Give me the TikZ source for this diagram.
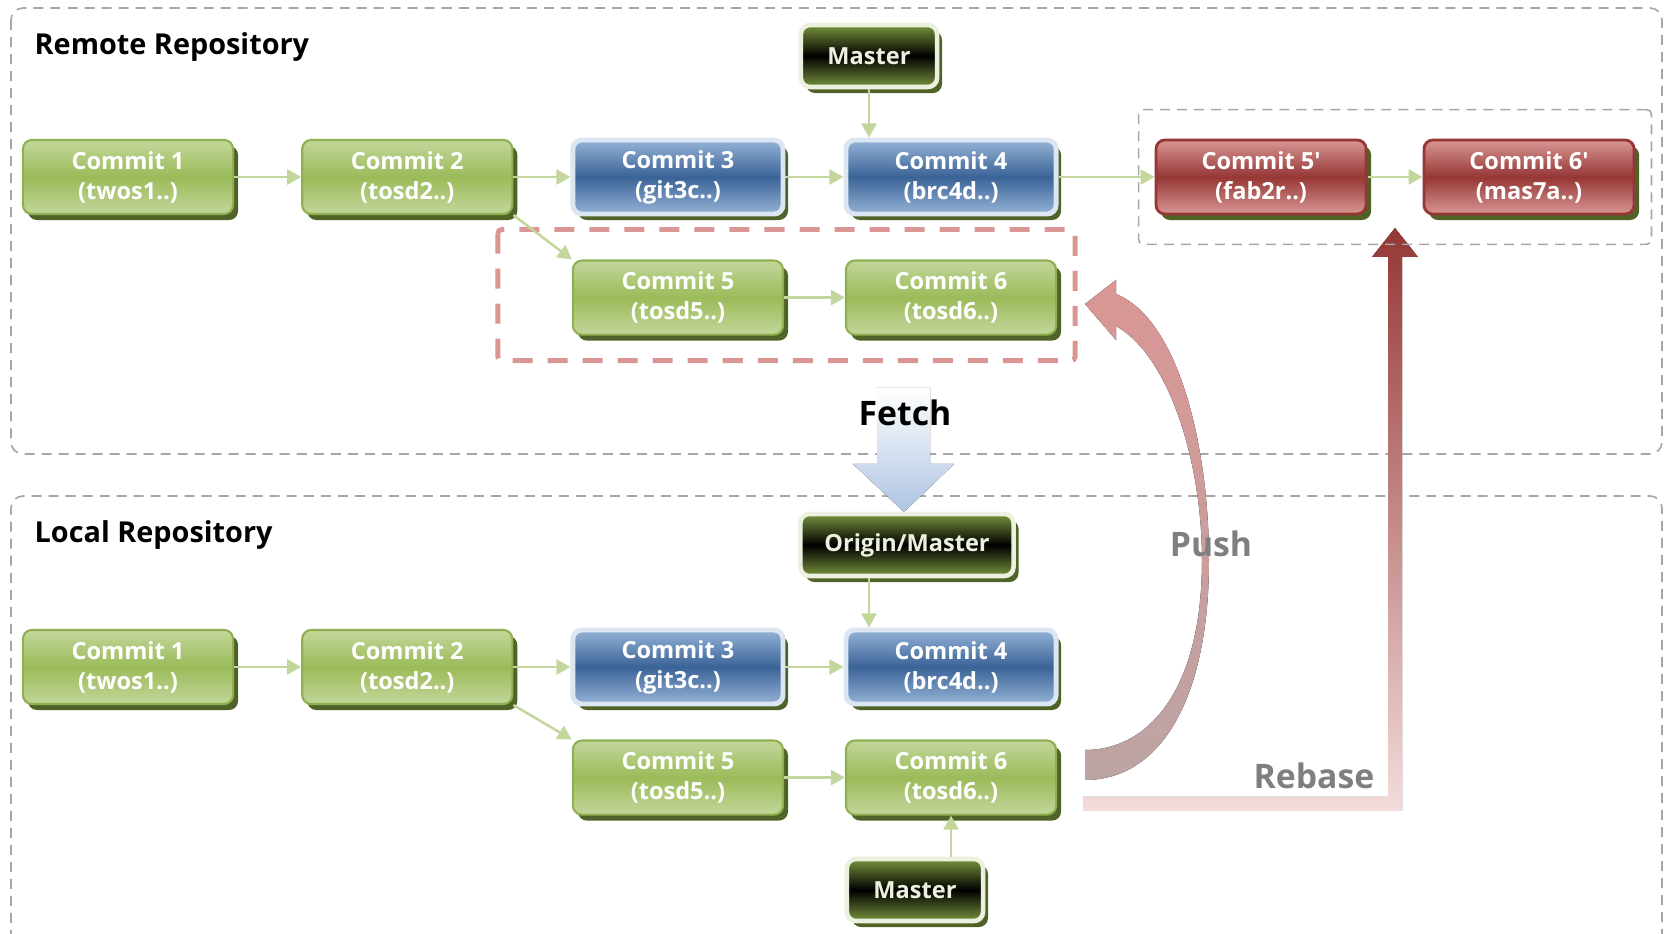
\documentclass[tikz,border=0pt]{standalone}
\usepackage{fontspec}
\setmainfont{Open Sans}
\usetikzlibrary{arrows.meta,positioning,shadows,calc,fit}

\definecolor{grnlight}{HTML}{C3D69B}
\definecolor{grnmid}{HTML}{9BBB59}
\definecolor{grnline}{HTML}{8FB050}
\definecolor{grndark}{HTML}{4F6228}
\definecolor{bluelight}{HTML}{95B3D7}
\definecolor{bluemid}{HTML}{3A6397}
\definecolor{blueline}{HTML}{DCE6F2}
\definecolor{redlight}{HTML}{D99694}
\definecolor{redmid}{HTML}{953735}
\definecolor{mstlight}{HTML}{77933C}
\definecolor{mstline}{HTML}{EBF1DE}
\definecolor{dashgray}{HTML}{A6A6A6}
\definecolor{fetchblue}{HTML}{AEC4E2}
\definecolor{labelgray}{HTML}{7F7F7F}
\definecolor{pushlow}{HTML}{BDA4A4}
\definecolor{rebaselow}{HTML}{F2DCDB}

\begin{document}
\begin{tikzpicture}[
  x=0.01cm, y=-0.01cm,
  font=\bfseries\fontsize{6.7}{8.5}\selectfont,
  commit/.style={rounded corners=0.09cm,minimum width=2.1cm,minimum height=0.74cm,
                 align=center,inner sep=1pt,text=white,
                 drop shadow={shadow xshift=0.05cm,shadow yshift=-0.06cm,fill=grndark,opacity=1}},
  greencommit/.style={commit,draw=grnline,line width=0.6pt,
                      top color=grnlight,bottom color=grnlight,middle color=grnmid},
  bluecommit/.style={commit,draw=blueline,line width=1.4pt,
                     top color=bluelight,bottom color=bluelight,middle color=bluemid},
  redcommit/.style={commit,draw=redmid,line width=0.8pt,
                    top color=redlight,bottom color=redlight,middle color=redmid},
  branchbox/.style={commit,minimum width=1.36cm,minimum height=0.62cm,draw=mstline,line width=1.3pt,
                    top color=mstlight,bottom color=mstlight,middle color=black,text=mstline},
  arr/.style={-{Triangle[length=0.14cm,width=0.15cm]},line width=0.025cm,grnlight},
  graydash/.style={draw=dashgray,line width=0.45pt,dash pattern=on 0.1cm off 0.07cm},
  reddash/.style={draw=redlight,line width=1.4pt,dash pattern=on 0.2cm off 0.15cm},
  title/.style={anchor=west,inner sep=0pt,font=\bfseries\fontsize{8.2}{10}\selectfont},
  biglabel/.style={inner sep=0pt,font=\bfseries\fontsize{9.6}{11}\selectfont},
]
\useasboundingbox (0,0) rectangle (1665,934);

%% ---- Repository frames -----------------------------------------------------
\draw[graydash,rounded corners=0.12cm] (11,8) rectangle (1662,454);
\draw[graydash,rounded corners=0.12cm] (11,940) -- (11,496) -- (1662,496) -- (1662,940);
\node[title] (rtitle) at (34,47) {Remote Repository};
\node[title] (ltitle) at (34,535) {Local Repository};

%% ---- Push and Rebase arrows ------------------------------------------------
\fill[top color=redlight,bottom color=pushlow]
  (1085,780) .. controls (1160,780) and (1209,700) .. (1209,560)
  .. controls (1209,450) and (1180,320) .. (1116,294) -- (1116,280) -- (1085,304)
  -- (1116,340) -- (1116,326) .. controls (1168,355) and (1202,460) .. (1202,560)
  .. controls (1202,688) and (1150,750) .. (1085,750) -- cycle;
\fill[top color=redmid,bottom color=rebaselow]
  (1083,797) -- (1388,797) -- (1388,257) -- (1372,257) -- (1395,228) -- (1418,257)
  -- (1402,257) -- (1402,811) -- (1083,811) -- cycle;
\node[biglabel,text=labelgray] (push) at (1211,544) {Push};
\node[biglabel,text=labelgray] (rebase) at (1314,776) {Rebase};

%% ---- Fetch arrow -----------------------------------------------------------
\fill[top color=white,bottom color=fetchblue]
  (877,388) -- (930,388) -- (930,464) -- (954,464) -- (904,512) -- (853,464) -- (877,464) -- cycle;
\node[biglabel] (fetch) at (905,413) {Fetch};

%% ---- Remote commits --------------------------------------------------------
\node[greencommit] (rc1) at (128,177) {Commit 1\\(twos1..)};
\node[greencommit,right=0.67cm of rc1] (rc2) {Commit 2\\(tosd2..)};
\node[bluecommit,right=0.57cm of rc2] (rc3) {Commit 3\\(git3c..)};
\node[bluecommit,right=0.58cm of rc3] (rc4) {Commit 4\\(brc4d..)};
\node[redcommit,right=0.96cm of rc4] (rc5p) {Commit 5′\\(fab2r..)};
\node[redcommit,right=0.55cm of rc5p] (rc6p) {Commit 6′\\(mas7a..)};
\node[greencommit,below=0.43cm of rc3] (rc5) {Commit 5\\(tosd5..)};
\node[greencommit,below=0.43cm of rc4] (rc6) {Commit 6\\(tosd6..)};
\node[branchbox] (rmaster) at (869,56) {Master};

%% ---- Remote groups
\node[graydash,rounded corners=0.05cm,inner xsep=0.16cm,inner ysep=0.29cm,fit=(rc5p)(rc6p)] (rebased) {};
\draw[reddash,rounded corners=0.04cm] ($(rc5.north west)+(-74,-30)$) rectangle ($(rc6.south east)+(18,25)$);

%% ---- Local commits ---------------------------------------------------------
\node[greencommit] (lc1) at (128,667) {Commit 1\\(twos1..)};
\node[greencommit,right=0.67cm of lc1] (lc2) {Commit 2\\(tosd2..)};
\node[bluecommit,right=0.57cm of lc2] (lc3) {Commit 3\\(git3c..)};
\node[bluecommit,right=0.58cm of lc3] (lc4) {Commit 4\\(brc4d..)};
\node[greencommit,below=0.33cm of lc3] (lc5) {Commit 5\\(tosd5..)};
\node[greencommit,below=0.33cm of lc4] (lc6) {Commit 6\\(tosd6..)};
\node[branchbox,minimum width=2.13cm] (omaster) at (907,545) {Origin/Master};
\node[branchbox] (lmaster) at (915,890) {Master};

%% ---- Arrows: remote --------------------------------------------------------
\draw[arr] (rc1) -- (rc2);
\draw[arr] (rc2) -- (rc3);
\draw[arr] (rc3) -- (rc4);
\draw[arr] (rc4) -- (rc5p);
\draw[arr] (rc5p) -- (rc6p);
\draw[arr] (rc2.south east) -- (rc5.north west);
\draw[arr] (rc5) -- (rc6);
\draw[arr] (rmaster.south) -- (rmaster.south |- rc4.north);

%% ---- Arrows: local ---------------------------------------------------------
\draw[arr] (lc1) -- (lc2);
\draw[arr] (lc2) -- (lc3);
\draw[arr] (lc3) -- (lc4);
\draw[arr] (lc2.south east) -- (lc5.north west);
\draw[arr] (lc5) -- (lc6);
\draw[arr] (omaster.south -| rmaster) -- (lc4.north -| rmaster);
\draw[arr] (lmaster.north -| lc6) -- (lc6.south);

\end{tikzpicture}
\end{document}
